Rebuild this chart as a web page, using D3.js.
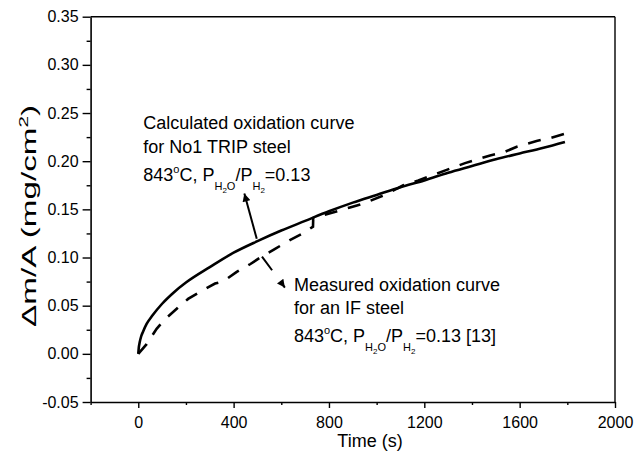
<!DOCTYPE html>
<html><head><meta charset="utf-8">
<script src="https://cdn.jsdelivr.net/npm/d3@7"></script>
<style>body{margin:0;background:#fff}svg{display:block}text{font-family:"Liberation Sans",Arial,sans-serif;fill:#000}</style>
</head><body><svg id="c" width="641" height="457"></svg>
<script>
// Calculated oxidation curve (solid)
const calcTime = [0, 2, 6, 12, 20, 35, 60, 100, 150, 200, 300, 400, 500, 600, 700, 800, 900, 1000, 1100, 1200, 1300, 1400, 1500, 1600, 1700, 1790];
const calcMass = [0, 0.006, 0.012, 0.018, 0.023, 0.031, 0.040, 0.052, 0.064, 0.074, 0.090, 0.105, 0.117, 0.128, 0.138, 0.148, 0.157, 0.165, 0.173, 0.180, 0.188, 0.195, 0.202, 0.208, 0.214, 0.220];
// Measured oxidation curve (dashed)
const measTime = [0, 35, 77, 112, 167, 209, 271, 322, 355, 413, 469, 518, 574, 636, 690, 733, 734, 790, 847, 888, 944, 1035, 1112, 1175, 1294, 1371, 1476, 1531, 1588, 1671, 1727, 1797];
const measMass = [0, 0.010, 0.026, 0.036, 0.048, 0.057, 0.066, 0.073, 0.075, 0.085, 0.093, 0.101, 0.109, 0.118, 0.125, 0.132, 0.141, 0.145, 0.149, 0.152, 0.156, 0.165, 0.175, 0.180, 0.191, 0.198, 0.206, 0.209, 0.215, 0.221, 0.224, 0.229];
const xTicks = [0, 400, 800, 1200, 1600, 2000];
const xTickLabels = ["0", "400", "800", "1200", "1600", "2000"];
const xMinor = [-200, 200, 600, 1000, 1400, 1800];
const yTicks = [-0.05, 0, 0.05, 0.10, 0.15, 0.20, 0.25, 0.30, 0.35];
const yTickLabels = ["-0.05", "0.00", "0.05", "0.10", "0.15", "0.20", "0.25", "0.30", "0.35"];
const yMinor = [-0.025, 0.025, 0.075, 0.125, 0.175, 0.225, 0.275, 0.325];

const svg = d3.select("#c");
const L = 90.6, R = 615, T = 16.7, B = 402;
const x = d3.scaleLinear().domain([-200, 2000]).range([L, R]);
const y = d3.scaleLinear().domain([-0.05, 0.35]).range([B, T]);

// frame
svg.append("line").attr("x1", L).attr("x2", R).attr("y1", T).attr("y2", T).attr("stroke", "#000").attr("stroke-width", 1.4);
svg.append("line").attr("x1", R).attr("x2", R).attr("y1", T).attr("y2", B).attr("stroke", "#000").attr("stroke-width", 1.4);

const fmtX = d => xTickLabels[xTicks.indexOf(d)];
const fmtY = d => yTickLabels[yTicks.indexOf(d)];

svg.append("g").attr("transform", `translate(0,${B})`)
  .call(d3.axisBottom(x).tickValues(xTicks).tickFormat(fmtX).tickSize(6).tickSizeOuter(0).tickPadding(9));
svg.append("g").attr("transform", `translate(0,${B})`)
  .call(d3.axisBottom(x).tickValues(xMinor).tickFormat("").tickSize(3).tickSizeOuter(0)).select(".domain").remove();
svg.append("g").attr("transform", `translate(${L},0)`)
  .call(d3.axisLeft(y).tickValues(yTicks).tickFormat(fmtY).tickSize(8).tickSizeOuter(0).tickPadding(4));
svg.append("g").attr("transform", `translate(${L},0)`)
  .call(d3.axisLeft(y).tickValues(yMinor).tickFormat("").tickSize(4).tickSizeOuter(0)).select(".domain").remove();
svg.selectAll(".domain").attr("stroke-width", 1.6);
svg.selectAll(".tick line").attr("stroke-width", 1.4);
svg.selectAll(".tick text").style("font-family", '"Liberation Sans",Arial,sans-serif').style("font-size", "16px");

// axis titles
svg.append("text").attr("x", 370).attr("y", 447).attr("text-anchor", "middle").style("font-size", "18px").text("Time (s)");
const ylg = svg.append("g");
const yl = ylg.append("text").attr("text-anchor", "middle").style("font-size", "21px");
yl.append("tspan").text("\u0394m/A (mg/cm");
yl.append("tspan").attr("dy", -8).style("font-size", "13px").text("2");
yl.append("tspan").attr("dy", 8).text(")");
const ylw = yl.node().getComputedTextLength();
const ylScale = 222 / ylw;
ylg.attr("transform", `translate(36,216) rotate(-90) scale(${ylScale},1)`);

// curves
const line = d3.line().x(d => x(d[0])).y(d => y(d[1])).curve(d3.curveMonotoneX);
svg.append("path").datum(calcTime.map((t, i) => [t, calcMass[i]])).attr("d", line)
  .attr("fill", "none").attr("stroke", "#000").attr("stroke-width", 2.6);
svg.append("path").datum(measTime.map((t, i) => [t, measMass[i]])).attr("d", d3.line().x(d => x(d[0])).y(d => y(d[1])))
  .attr("fill", "none").attr("stroke", "#000").attr("stroke-width", 2.6).attr("stroke-dasharray", "13,11");

// arrows
const defs = svg.append("defs");
defs.append("marker").attr("id", "ah").attr("viewBox", "0 0 10 10").attr("refX", 10).attr("refY", 5)
  .attr("markerWidth", 10).attr("markerHeight", 8).attr("markerUnits", "userSpaceOnUse").attr("orient", "auto")
  .append("path").attr("d", "M0,0L10,5L0,10Z").attr("fill", "#000");
const calcArrow = [[497, 0.1195], [445, 0.1664]];
const measArrow = [[519, 0.101], [615, 0.0688]];
svg.append("line").attr("x1", x(calcArrow[0][0])).attr("y1", y(calcArrow[0][1])).attr("x2", x(calcArrow[1][0])).attr("y2", y(calcArrow[1][1]))
  .attr("stroke", "#000").attr("stroke-width", 2).attr("marker-end", "url(#ah)");
svg.append("line").attr("x1", x(measArrow[0][0])).attr("y1", y(measArrow[0][1])).attr("x2", x(measArrow[1][0])).attr("y2", y(measArrow[1][1]))
  .attr("stroke", "#000").attr("stroke-width", 2).attr("stroke-dasharray", "17,16").attr("marker-end", "url(#ah)");

// annotation text
function condLine(tx, ty, extra) {
  const t = svg.append("text").attr("x", x(tx)).attr("y", y(ty)).style("font-size", "18px");
  t.append("tspan").text("843");
  t.append("tspan").attr("dy", -8).style("font-size", "11px").text("o");
  t.append("tspan").attr("dy", 8).text("C, P");
  t.append("tspan").attr("dy", 9).style("font-size", "11px").text("H");
  t.append("tspan").attr("dy", 3).style("font-size", "8px").text("2");
  t.append("tspan").attr("dy", -3).style("font-size", "11px").text("O");
  t.append("tspan").attr("dy", -9).text("/P");
  t.append("tspan").attr("dy", 9).style("font-size", "11px").text("H");
  t.append("tspan").attr("dy", 3).style("font-size", "8px").text("2");
  t.append("tspan").attr("dy", -12).text("=0.13" + extra);
}
const calcLabel = ["Calculated oxidation curve", "for No1 TRIP steel"];
const measLabel = ["Measured oxidation curve", "for an IF steel"];
svg.append("text").attr("x", x(21)).attr("y", y(0.233)).style("font-size", "18px").text(calcLabel[0]);
svg.append("text").attr("x", x(21)).attr("y", y(0.208)).style("font-size", "18px").text(calcLabel[1]);
condLine(21, 0.179, "");
svg.append("text").attr("x", x(653)).attr("y", y(0.0656)).style("font-size", "18px").text(measLabel[0]);
svg.append("text").attr("x", x(653)).attr("y", y(0.0417)).style("font-size", "18px").text(measLabel[1]);
condLine(653, 0.0125, " [13]");
</script></body></html>
